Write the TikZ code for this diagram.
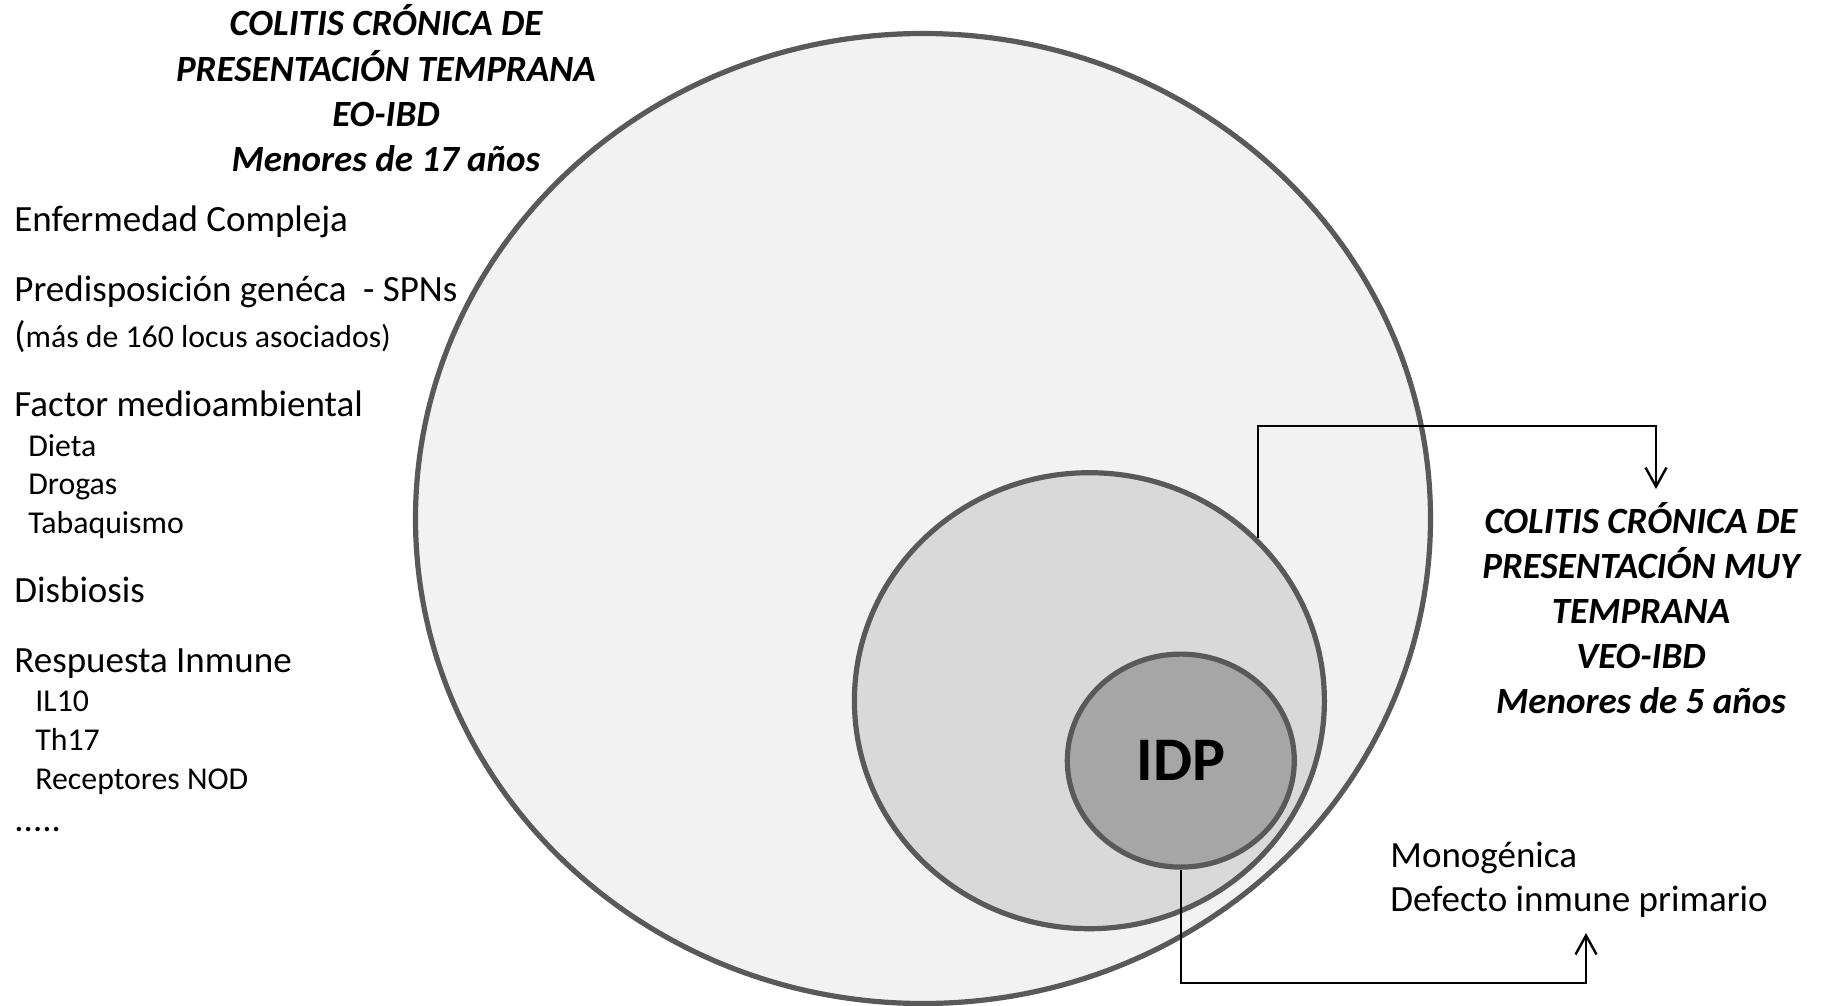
\documentclass[tikz,border=0pt]{standalone}
\usepackage{fontspec}
\setmainfont{Carlito}
\usetikzlibrary{shapes.geometric,arrows.meta}
\definecolor{ringgray}{HTML}{595959}
\definecolor{fillA}{HTML}{F2F2F2}
\definecolor{fillB}{HTML}{D9D9D9}
\definecolor{fillC}{HTML}{A6A6A6}
\begin{document}
\begin{tikzpicture}[x=0.5pt,y=-0.5pt,
 ring/.style={ellipse, draw=ringgray, line width=2.6pt, inner sep=0pt},
 bigtxt/.style={anchor=base west, inner sep=0pt, font=\fontsize{18.5}{22.3}\selectfont},
 smalltxt/.style={anchor=base west, inner sep=0pt, font=\fontsize{15.9}{19}\selectfont},
 ttl/.style={anchor=base, inner sep=0pt, font=\fontsize{18.5}{22.6}\selectfont\bfseries\itshape},
 conn/.style={line width=1.2pt, -{Straight Barb[length=9.5pt,width=10.5pt]}}
]
\useasboundingbox[fill=white] (0,0) rectangle (1825,1006);

% ellipses
\node[ring, fill=fillA, minimum width=507.5pt, minimum height=485pt] (eo) at (923,518.5) {};
\node[ring, fill=fillB, minimum width=235pt, minimum height=228pt] (veoring) at (1089.4,700.7) {};
\node[ring, fill=fillC, minimum width=113.5pt, minimum height=106.5pt,
      font=\fontsize{31}{36}\selectfont\bfseries] (idp) at (1180.8,760.6) {IDP};

% titles
\node[ttl] (eotitle) at (386,36) {\begin{tabular}[t]{@{}c@{}}COLITIS CRÓNICA DE\\PRESENTACIÓN TEMPRANA\\EO-IBD\\Menores de 17 años\end{tabular}};
\node[ttl] (veotitle) at (1641,533) {\begin{tabular}[t]{@{}c@{}}COLITIS CRÓNICA DE\\PRESENTACIÓN MUY\\TEMPRANA\\VEO-IBD\\Menores de 5 años\end{tabular}};

% left list
\node[bigtxt] (l1) at (14,231) {Enfermedad Compleja};
\node[bigtxt] (l2) at (14,301) {Predisposición genéca~ - SPNs};
\node[smalltxt] (l3) at (14,347) {{\fontsize{18.5}{22.3}\selectfont(}más de 160 locus asociados)};
\node[bigtxt] (l4) at (14,416) {Factor medioambiental};
\node[smalltxt] (l5) at (28,456) {Dieta};
\node[smalltxt] (l6) at (28,494) {Drogas};
\node[smalltxt] (l7) at (28,533) {Tabaquismo};
\node[bigtxt] (l8) at (14,602) {Disbiosis};
\node[bigtxt] (l9) at (14,672) {Respuesta Inmune};
\node[smalltxt] (l10) at (35,711) {IL10};
\node[smalltxt] (l11) at (35,750) {Th17};
\node[smalltxt] (l12) at (35,789) {Receptores NOD};
\node[bigtxt] (l13) at (14,831) {.....};

% monogenic text
\node[anchor=base west, inner sep=0pt, font=\fontsize{18.5}{22.3}\selectfont] (mono) at (1390,867)
  {\begin{tabular}[t]{@{}l@{}}Monogénica\\Defecto inmune primario\end{tabular}};

% connectors
\coordinate (veotip) at (1656,489);
\coordinate (monotip) at (1586,933);
\draw[conn] (veoring.44.3) -- ++(0,-112) -| (veotip);
\draw[conn] (idp.south) -- ++(0,113) -| (monotip);
\end{tikzpicture}
\end{document}
